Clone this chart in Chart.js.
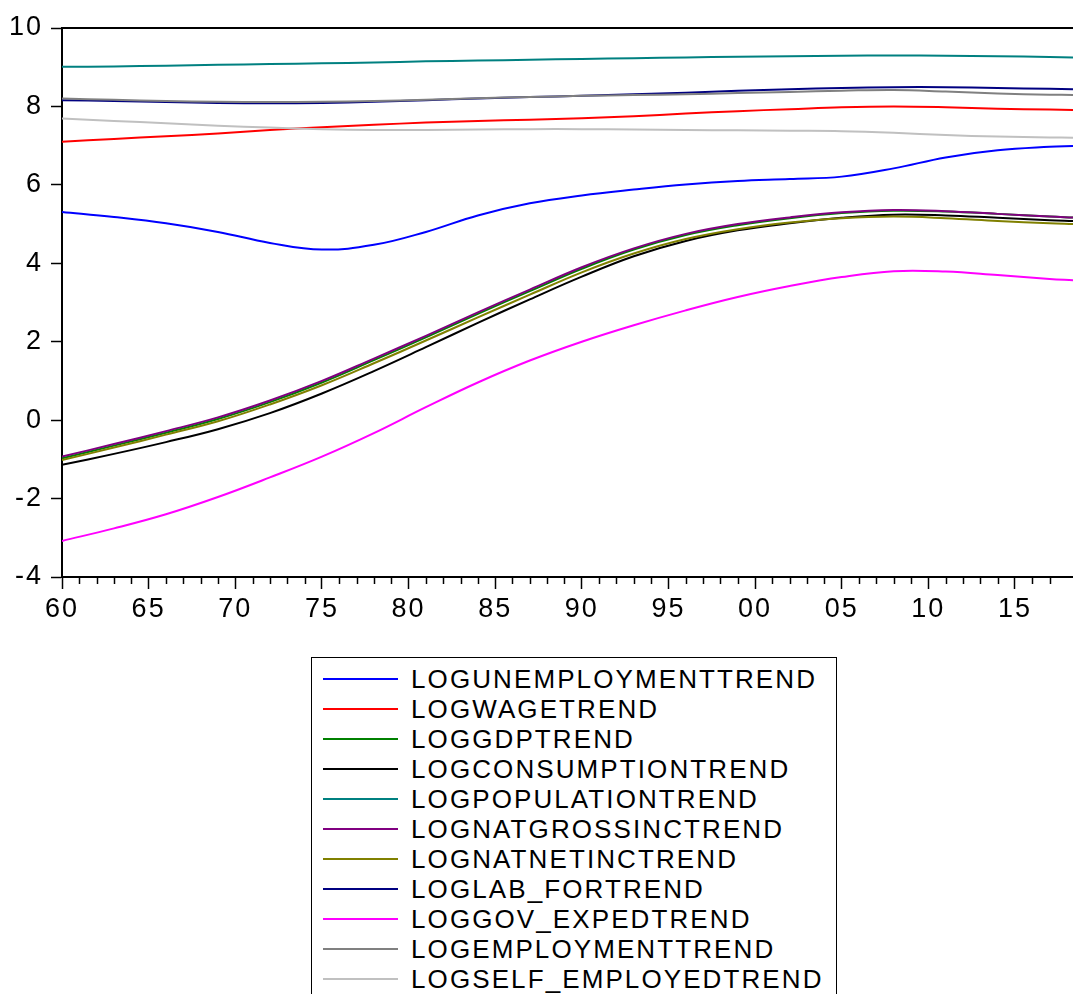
<!DOCTYPE html>
<html>
<head>
<meta charset="utf-8">
<script src="https://cdn.jsdelivr.net/npm/chart.js@4.4.1/dist/chart.umd.min.js"></script>
<style>
  html, body { margin: 0; padding: 0; background: #fff; overflow: hidden; }
  #wrap { position: relative; width: 1073px; height: 994px; }
  #chartBox { position: absolute; left: 0; top: 0; width: 1073px; height: 650px; }
  #legend {
    position: absolute; left: 311px; top: 657px; width: 526px; height: 345px;
    border: 1px solid #000; box-sizing: border-box;
    font-family: "Liberation Sans", Arial, sans-serif; font-size: 26px; letter-spacing: 2.1px;
  }
  #legend .row { position: absolute; left: 0; height: 30px; width: 100%; }
  #legend .swatch { position: absolute; left: 11px; top: 14px; width: 75px; height: 2px; }
  #legend .label { position: absolute; left: 99px; top: 0; line-height: 30px; white-space: nowrap; color: #000; }
</style>
</head>
<body>
<div id="wrap">
  <div id="chartBox"><canvas id="grafica"></canvas></div>
  <div id="legend"></div>
</div>
<script>
// años de lectura (cada 3 años; el último es el borde derecho del gráfico)
const years = [1960, 1963, 1966, 1969, 1972, 1975, 1978, 1981, 1984, 1987, 1990,
               1993, 1996, 1999, 2002, 2005, 2008, 2011, 2014, 2017, 2018.35];

const logUnemployment = [5.31, 5.18, 5.02, 4.80, 4.52, 4.35, 4.47, 4.80, 5.22, 5.53, 5.73,
                         5.88, 6.01, 6.10, 6.15, 6.21, 6.42, 6.70, 6.88, 6.97, 6.99];
const logWage         = [7.10, 7.17, 7.24, 7.31, 7.40, 7.47, 7.53, 7.59, 7.63, 7.66, 7.70,
                         7.75, 7.82, 7.88, 7.93, 7.98, 8.00, 7.98, 7.94, 7.92, 7.91];
const logGdp          = [-0.97, -0.65, -0.32, 0.03, 0.46, 0.96, 1.53, 2.11, 2.71, 3.29, 3.86,
                         4.35, 4.72, 4.97, 5.15, 5.28, 5.34, 5.32, 5.26, 5.19, 5.17];
const logConsumption  = [-1.14, -0.86, -0.56, -0.23, 0.18, 0.68, 1.25, 1.86, 2.48, 3.08, 3.66,
                         4.18, 4.57, 4.84, 5.02, 5.16, 5.24, 5.22, 5.16, 5.10, 5.08];
const logPopulation   = [9.01, 9.02, 9.04, 9.06, 9.08, 9.10, 9.12, 9.15, 9.17, 9.19, 9.21,
                         9.23, 9.25, 9.27, 9.28, 9.29, 9.30, 9.29, 9.28, 9.26, 9.25];
const logNatGrossInc  = [-0.93, -0.61, -0.28, 0.07, 0.50, 1.00, 1.57, 2.15, 2.75, 3.33, 3.90,
                         4.38, 4.75, 5.00, 5.17, 5.30, 5.36, 5.33, 5.26, 5.19, 5.17];
const logNatNetInc    = [-1.02, -0.70, -0.37, -0.03, 0.40, 0.89, 1.45, 2.03, 2.62, 3.20, 3.77,
                         4.25, 4.62, 4.87, 5.04, 5.15, 5.19, 5.15, 5.08, 5.02, 5.00];
const logLabFor       = [8.16, 8.14, 8.11, 8.09, 8.08, 8.09, 8.12, 8.16, 8.20, 8.24, 8.27,
                         8.31, 8.35, 8.40, 8.44, 8.47, 8.49, 8.49, 8.47, 8.45, 8.44];
const logGovExped     = [-3.08, -2.76, -2.40, -1.96, -1.46, -0.93, -0.33, 0.33, 0.96, 1.52, 2.00,
                         2.42, 2.80, 3.14, 3.42, 3.65, 3.80, 3.79, 3.70, 3.60, 3.57];
const logEmployment   = [8.20, 8.17, 8.14, 8.12, 8.11, 8.12, 8.14, 8.17, 8.21, 8.24, 8.27,
                         8.29, 8.31, 8.34, 8.37, 8.40, 8.42, 8.38, 8.33, 8.30, 8.29];
const logSelfEmployed = [7.69, 7.63, 7.57, 7.51, 7.46, 7.42, 7.40, 7.40, 7.41, 7.42, 7.42,
                         7.41, 7.40, 7.39, 7.38, 7.37, 7.33, 7.27, 7.23, 7.21, 7.20];

const series = [
    { nombre: 'LOGUNEMPLOYMENTTREND',  valores: logUnemployment, color: '#0000ff' },
    { nombre: 'LOGWAGETREND',          valores: logWage,         color: '#ff0000' },
    { nombre: 'LOGGDPTREND',           valores: logGdp,          color: '#008000' },
    { nombre: 'LOGCONSUMPTIONTREND',   valores: logConsumption,  color: '#000000' },
    { nombre: 'LOGPOPULATIONTREND',    valores: logPopulation,   color: '#008080' },
    { nombre: 'LOGNATGROSSINCTREND',   valores: logNatGrossInc,  color: '#800080' },
    { nombre: 'LOGNATNETINCTREND',     valores: logNatNetInc,    color: '#808000' },
    { nombre: 'LOGLAB_FORTREND',       valores: logLabFor,       color: '#000080' },
    { nombre: 'LOGGOV_EXPEDTREND',     valores: logGovExped,     color: '#ff00ff' },
    { nombre: 'LOGEMPLOYMENTTREND',    valores: logEmployment,   color: '#808080' },
    { nombre: 'LOGSELF_EMPLOYEDTREND', valores: logSelfEmployed, color: '#c0c0c0' }
];

// marco superior y ticks menores del eje x
const marco = {
    id: 'marco',
    beforeDraw(chart) {
        chart.ctx.letterSpacing = '2px';
    },
    afterDraw(chart) {
        const { ctx, chartArea, scales } = chart;
        ctx.save();
        ctx.letterSpacing = '0px';
        ctx.strokeStyle = '#000';
        ctx.lineWidth = 2;
        ctx.beginPath();
        ctx.moveTo(chartArea.left - 1, chartArea.top);
        ctx.lineTo(chartArea.right, chartArea.top);
        ctx.stroke();
        ctx.lineWidth = 1.5;
        scales.x.ticks.forEach(t => {
            if (!Number.isInteger(t.value) || t.value % 5 === 0) return;
            const px = Math.round(scales.x.getPixelForValue(t.value)) + 0.5;
            ctx.beginPath();
            ctx.moveTo(px, chartArea.bottom);
            ctx.lineTo(px, chartArea.bottom + 7);
            ctx.stroke();
        });
        ctx.restore();
    }
};

const fuente = { family: '"Liberation Sans", Arial, sans-serif', size: 27 };

const chart = new Chart(document.getElementById('grafica'), {
    type: 'line',
    data: {
        datasets: series.map((s, i) => ({
            label: s.nombre,
            data: years.map((y, k) => ({ x: y, y: s.valores[k] })),
            borderColor: s.color,
            backgroundColor: s.color,
            borderWidth: 2,
            pointRadius: 0,
            tension: 0.4,
            fill: false,
            order: -i
        }))
    },
    options: {
        responsive: true,
        maintainAspectRatio: false,
        animation: false,
        layout: { padding: { top: 28, right: 0, bottom: 0, left: 0 } },
        plugins: { legend: { display: false }, tooltip: { enabled: false } },
        scales: {
            x: {
                type: 'linear',
                min: 1960,
                max: 2018.35,
                afterFit: s => { s.height = 73; s.paddingRight = 0; s.paddingLeft = 0; },
                border: { color: '#000', width: 2 },
                grid: {
                    drawOnChartArea: false,
                    tickLength: 12,
                    tickWidth: 1.5,
                    tickColor: c => (Number.isInteger(c.tick.value) && c.tick.value % 5 === 0) ? '#000' : 'rgba(0,0,0,0)'
                },
                ticks: {
                    stepSize: 1,
                    autoSkip: false,
                    maxRotation: 0,
                    padding: 4,
                    color: '#000',
                    font: fuente,
                    callback: v => (Number.isInteger(v) && v % 5 === 0) ? String(v % 100).padStart(2, '0') : ''
                }
            },
            y: {
                min: -4,
                max: 10,
                afterFit: s => { s.width = 62; },
                border: { color: '#000', width: 2 },
                grid: { drawOnChartArea: false, tickLength: 11, tickWidth: 1.5, tickColor: '#000' },
                ticks: { stepSize: 2, padding: 8, color: '#000', font: fuente }
            }
        }
    },
    plugins: [marco]
});

// leyenda en HTML a partir de los datasets
const leyenda = document.getElementById('legend');
chart.data.datasets.forEach((d, i) => {
    const fila = document.createElement('div');
    fila.className = 'row';
    fila.style.top = (6 + 30 * i) + 'px';
    fila.innerHTML = '<div class="swatch" style="background:' + d.borderColor + '"></div>' +
                     '<div class="label">' + d.label + '</div>';
    leyenda.appendChild(fila);
});
</script>
</body>
</html>
